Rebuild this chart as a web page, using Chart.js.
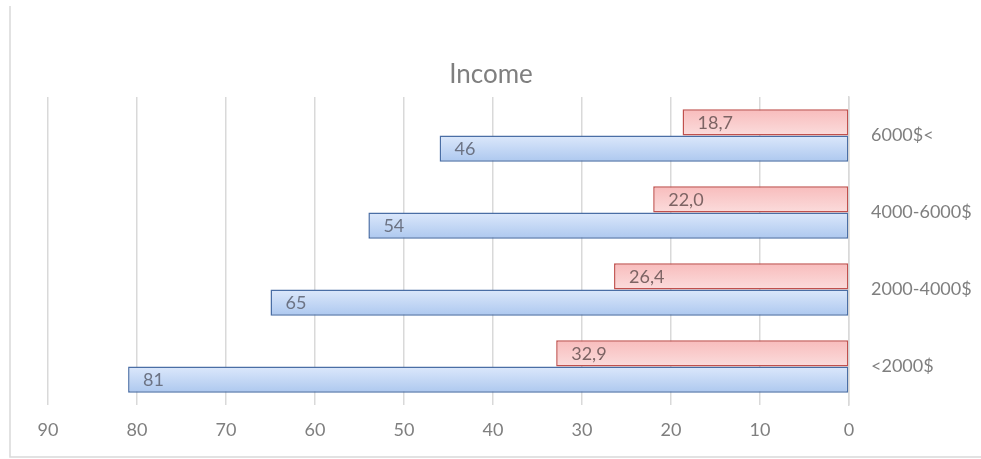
<!DOCTYPE html>
<html>
<head>
<meta charset="utf-8">
<title>Income</title>
<script src="https://cdn.jsdelivr.net/npm/chart.js@4"></script>
<style>
  html, body { margin: 0; padding: 0; background: #fff; }
  #wrap { width: 981px; height: 459px; position: relative; }
</style>
</head>
<body>
<div id="wrap"><canvas id="income-chart"></canvas></div>
<script>
const categories = ["6000$<", "4000-6000$", "2000-4000$", "<2000$"];
const redValues = [18.7, 22.0, 26.4, 32.9];
const blueValues = [46, 54, 65, 81];
const xTicks = [0, 10, 20, 30, 40, 50, 60, 70, 80, 90];
const chartTitle = "Income";

const CAT_PCT = 0.68;
const FONT = "Lato, 'Open Sans', sans-serif";

const formatValue = (v, decimals) => v.toFixed(decimals).replace(".", ",");

// vertical gradient across one bar of the pair (0 = top bar, 1 = bottom bar)
function barGradient(context, slot, topColor, bottomColor) {
  const chart = context.chart;
  const yScale = chart.scales.y;
  if (!chart.chartArea || !yScale) return topColor;
  const center = yScale.getPixelForValue(context.dataIndex);
  const half = (yScale.height / categories.length) * CAT_PCT / 2;
  const top = slot === 0 ? center - half : center;
  const bottom = slot === 0 ? center : center + half;
  const g = chart.ctx.createLinearGradient(0, top, 0, bottom);
  g.addColorStop(0, topColor);
  g.addColorStop(1, bottomColor);
  return g;
}

// value labels sitting inside the far end of each bar
const barLabels = {
  id: "barLabels",
  afterDatasetsDraw(chart) {
    const ctx = chart.ctx;
    ctx.save();
    ctx.font = "18px " + FONT;
    ctx.textAlign = "left";
    ctx.textBaseline = "middle";
    chart.data.datasets.forEach((ds, i) => {
      const meta = chart.getDatasetMeta(i);
      meta.data.forEach((bar, j) => {
        ctx.fillStyle = ds.labelColor;
        ctx.fillText(formatValue(ds.data[j], ds.decimals), bar.x + 15, bar.y + 1);
      });
    });
    ctx.restore();
  },
};

// outer frame on the left and bottom edges, plus the title centred on the whole box
const frame = {
  id: "frame",
  beforeDraw(chart) {
    const ctx = chart.ctx;
    ctx.save();
    ctx.strokeStyle = "#d9d9d9";
    ctx.lineWidth = 1.5;
    ctx.beginPath();
    ctx.moveTo(10, 6);
    ctx.lineTo(10, 457);
    ctx.lineTo(981, 457);
    ctx.stroke();
    ctx.fillStyle = "#7f7f7f";
    ctx.font = "26px " + FONT;
    ctx.textAlign = "center";
    ctx.textBaseline = "middle";
    ctx.fillText(chartTitle, 491, 75);
    ctx.restore();
  },
};

new Chart(document.getElementById("income-chart"), {
  type: "bar",
  data: {
    labels: categories,
    datasets: [
      {
        label: "red",
        data: redValues,
        decimals: 1,
        labelColor: "#7d6464",
        backgroundColor: (c) => barGradient(c, 0, "#f8bcbc", "#fbdcdc"),
        borderColor: "#c0504d",
        borderWidth: 1.5,
        borderSkipped: false,
      },
      {
        label: "blue",
        data: blueValues,
        decimals: 0,
        labelColor: "#6c7384",
        backgroundColor: (c) => barGradient(c, 1, "#dce8fb", "#adc8ef"),
        borderColor: "#4a6ea5",
        borderWidth: 1.5,
        borderSkipped: false,
      },
    ],
  },
  options: {
    indexAxis: "y",
    responsive: true,
    maintainAspectRatio: false,
    animation: false,
    layout: { padding: { left: 48, right: 0, top: 97, bottom: 0 } },
    datasets: {
      bar: { categoryPercentage: CAT_PCT, barPercentage: 1 },
    },
    plugins: {
      legend: { display: false },
      tooltip: { enabled: false },
      title: { display: false },
    },
    scales: {
      x: {
        reverse: true,
        min: 0,
        max: 90,
        afterBuildTicks: (scale) => {
          scale.ticks = xTicks.map((v) => ({ value: v }));
        },
        afterFit: (scale) => {
          scale.height = 54;
        },
        grid: { color: "#d9d9d9", lineWidth: 1.5, drawTicks: false },
        border: { display: false },
        ticks: {
          color: "#7f7f7f",
          font: { family: FONT, size: 18 },
          padding: 14,
        },
      },
      y: {
        position: "right",
        afterFit: (scale) => {
          scale.width = 132;
        },
        grid: { display: false, drawTicks: false },
        border: { display: true, color: "#d9d9d9", width: 1.5 },
        ticks: {
          color: "#7f7f7f",
          font: { family: FONT, size: 18 },
          padding: 22,
        },
      },
    },
  },
  plugins: [barLabels, frame],
});
</script>
</body>
</html>
